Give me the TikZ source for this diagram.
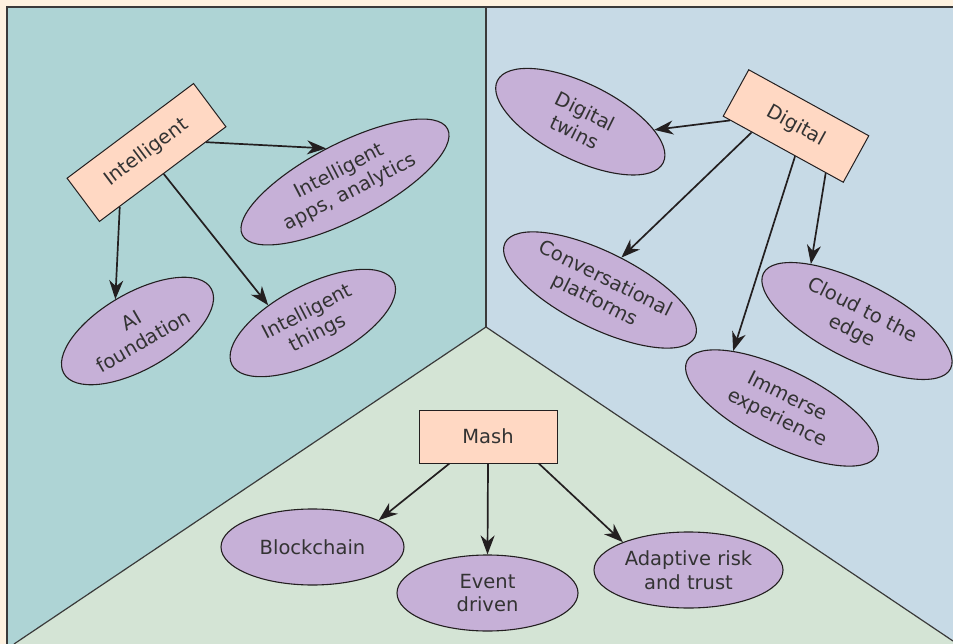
\documentclass[tikz,border=0pt]{standalone}
\usepackage{fontspec}
\setmainfont{DejaVu Sans}
\usetikzlibrary{arrows.meta,shapes.geometric}
\definecolor{creambg}{HTML}{FEF2E0}
\definecolor{regA}{HTML}{AED4D5}
\definecolor{regB}{HTML}{C7DAE6}
\definecolor{regC}{HTML}{D4E4D5}
\definecolor{peach}{HTML}{FFD8C3}
\definecolor{lav}{HTML}{C6B0D7}
\definecolor{linec}{HTML}{231F20}
\definecolor{regline}{HTML}{3A3A3A}
\definecolor{textc}{HTML}{333333}
\begin{document}
\begin{tikzpicture}[x=1pt,y=-1pt,
  lbl/.style={text=textc, font=\fontsize{19.5}{23.5}\selectfont, align=center},
  box/.style={lbl, rectangle, draw=linec, line width=1pt, fill=peach, inner sep=0pt},
  oval/.style={lbl, ellipse, draw=linec, line width=1.1pt, fill=lav, inner sep=0pt, minimum height=76pt},
  arr/.style={draw=linec, line width=1.7pt, -{Stealth[length=19pt,width=14pt,inset=6pt]}},
  region/.style={draw=regline, line width=1.2pt}]
\useasboundingbox (0,0) rectangle (953,644);
\fill[creambg] (0,0) rectangle (953,644);
\fill[regA] (7,7) -- (486,7) -- (486,327) -- (14,644) -- (7,644) -- cycle;
\fill[regB] (486,7) -- (953,7) -- (953,641) -- (486,327) -- cycle;
\fill[regC] (486,327) -- (953,641) -- (953,644) -- (14,644) -- cycle;
\draw[region] (7,644) -- (7,7) -- (953,7);
\draw[region] (486,7) -- (486,327);
\draw[region] (14,644) -- (486,327) -- (953,641);

% boxes
\node[box, minimum width=158pt, minimum height=54pt, rotate=36.8] (intel) at (146.5,152.5) {Intelligent};
\node[box, minimum width=137pt, minimum height=53pt, rotate=-28.8] (digital) at (796,126) {Digital};
\node[box, minimum width=138pt, minimum height=53pt] (mash) at (488,436.5) {Mash};

% ellipses
\node[oval, minimum width=231pt, rotate=27.4] (apps) at (345,182) {Intelligent\\apps, analytics};
\node[oval, minimum width=170pt, rotate=30] (ai) at (137.5,331) {AI\\foundation};
\node[oval, minimum width=182pt, rotate=27.3] (things) at (312.8,323) {Intelligent\\things};
\node[oval, minimum width=185pt, rotate=-26.3] (twins) at (580.3,121.7) {Digital\\twins};
\node[oval, minimum width=212pt, rotate=-26.4] (conv) at (600,290) {Conversational\\platforms};
\node[oval, minimum width=210pt, rotate=-27] (cloud) at (857,321) {Cloud to the\\edge};
\node[oval, minimum width=212pt, rotate=-26.4] (imm) at (782,408) {Immerse\\experience};
\node[oval, minimum width=183pt] (block) at (312.5,547) {Blockchain};
\node[oval, minimum width=181pt] (event) at (487.5,593) {Event\\driven};
\node[oval, minimum width=189pt] (adapt) at (688.5,570) {Adaptive risk\\and trust};

% connectors
\draw[arr] (intel.-27) -- (apps.92);
\draw[arr] (intel.207) -- (ai.95);
\draw[arr] (intel.-88) -- (things.131);
\draw[arr] (digital.204) -- (twins.20);
\draw[arr] (digital.217) -- (conv.83);
\draw[arr] (digital.297) -- (imm.157);
\draw[arr] (digital.331) -- (cloud.156);
\draw[arr] (mash.215.5) -- (block.22);
\draw[arr] (mash.south) -- (event.north);
\draw[arr] (mash.332.6) -- (adapt.157);
\end{tikzpicture}
\end{document}
